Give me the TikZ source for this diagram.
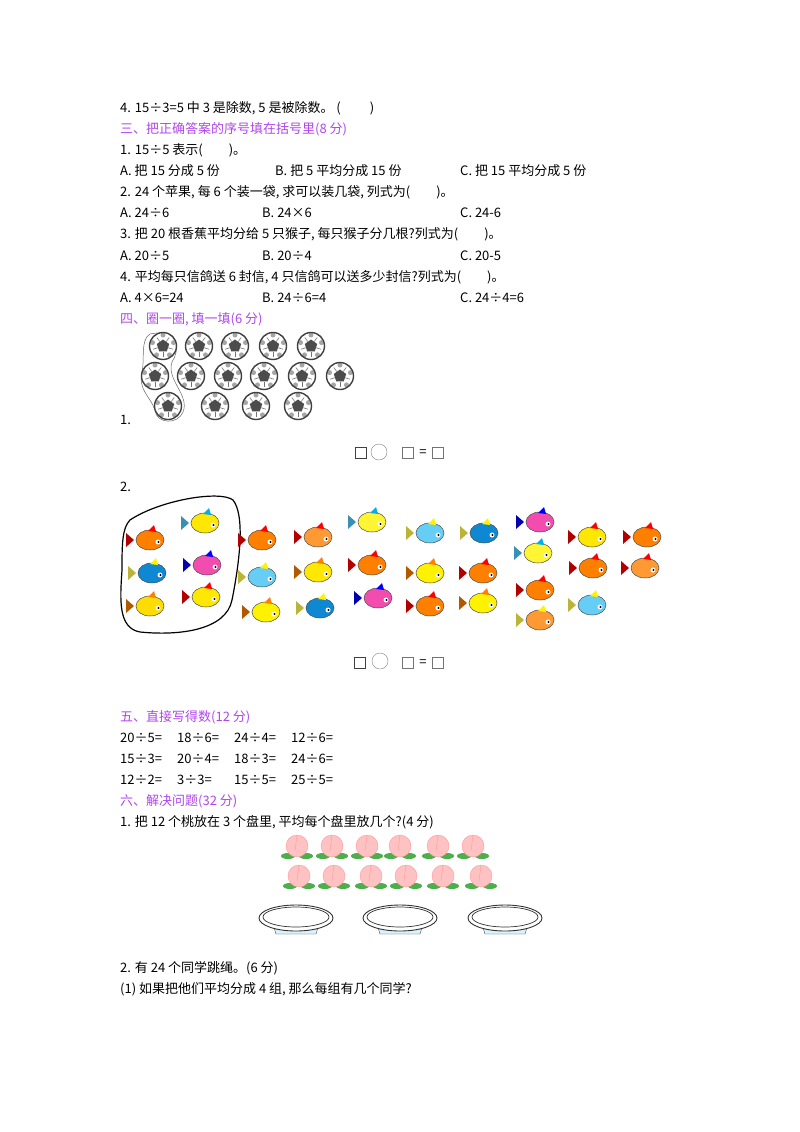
\documentclass[tikz,border=0pt]{standalone}
\usepackage{fontspec}
\setmainfont{Noto Sans CJK SC}
\usetikzlibrary{shapes.geometric}
\definecolor{pur}{RGB}{175,70,235}
\tikzset{
 t/.style={anchor=base west,inner sep=0pt,font=\fontsize{13}{15}\selectfont},
 h/.style={t,text=pur},
 bx/.style={draw=black!75,line width=1pt,minimum size=11pt,inner sep=0pt},
 ci/.style={draw=black!50,circle,minimum size=16pt,inner sep=0pt},
}
\newcommand\ball[2]{\fill[white](#1,#2) circle(13.5);
 \foreach \a in {54,126,198,270,342}{\fill[black!35](#1,#2)++(\a:11) circle(2.5);}
 \draw[black!75,line width=1.4pt](#1,#2) circle(13.5);
 \node[regular polygon,regular polygon sides=5,fill=black!70,minimum size=13pt,inner sep=0pt] at (#1,#2){};
 \foreach \a in {90,162,234,306,18}{\draw[black!55,line width=0.6pt](#1,#2)++(\a:5.5)--++(\a:5);}}
\newcommand\fishy[4]{\begin{scope}[shift={(#1,#2)}]
 \fill[#4!70!black](-16,0)--(-24,-7)--(-24,7)--cycle;
 \fill[#3](0,0) ellipse (14 and 10);\draw[black!70,line width=0.5pt](0,0) ellipse (14 and 10);
 \fill[#4](-2,-9)--(4,-15)--(6,-8)--cycle;
 \fill[white](8,2) circle(2.5);\fill(8.5,2) circle(1.2);\end{scope}}
\newcommand\peach[2]{\fill[green!55!black!70](#1-9,#2+10) ellipse (7 and 3);\fill[green!55!black!70](#1+9,#2+10) ellipse (7 and 3);
 \fill[pink!80!red!60](#1,#2) circle(11);\draw[red!40,line width=0.4pt](#1,#2) circle(11);\draw[red!40](#1,#2-11)--(#1-2,#2+5);}
\newcommand\plate[1]{\fill[cyan!15](#1-25,918)--(#1+25,918)--(#1+20,934)--(#1-20,934)--cycle;\draw[black!70](#1-25,918)--(#1-20,934)--(#1+20,934)--(#1+25,918);
 \fill[white](#1,918) ellipse (37 and 13);\draw[black!80,line width=0.9pt](#1,918) ellipse (37 and 13);\draw[black!80,line width=0.7pt](#1,917) ellipse (33 and 10);}
\begin{document}
\begin{tikzpicture}[x=1pt,y=-1pt]
\useasboundingbox (0,0) rectangle (800,1132);
\node[t] (l1) at (120,112) {4. 15÷3=5 中 3 是除数, 5 是被除数。 (\qquad\ )};
\node[h] (s3) at (120,133) {三、把正确答案的序号填在括号里(8 分)};
\node[t] (q1) at (120,154) {1. 15÷5 表示(\qquad )。};
\node[t] (q1a) at (120,175) {A. 把 15 分成 5 份};
\node[t] (q1b) at (275,175) {B. 把 5 平均分成 15 份};
\node[t] (q1c) at (460,175) {C. 把 15 平均分成 5 份};
\node[t] (q2) at (120,196) {2. 24 个苹果, 每 6 个装一袋, 求可以装几袋, 列式为(\qquad )。};
\node[t] (q2a) at (120,217) {A. 24÷6};
\node[t] (q2b) at (262,217) {B. 24×6};
\node[t] (q2c) at (460,217) {C. 24-6};
\node[t] (q3) at (120,238) {3. 把 20 根香蕉平均分给 5 只猴子, 每只猴子分几根?列式为(\qquad )。};
\node[t] (q3a) at (120,260) {A. 20÷5};
\node[t] (q3b) at (262,260) {B. 20÷4};
\node[t] (q3c) at (460,260) {C. 20-5};
\node[t] (q4) at (120,281) {4. 平均每只信鸽送 6 封信, 4 只信鸽可以送多少封信?列式为(\qquad )。};
\node[t] (q4a) at (120,302) {A. 4×6=24};
\node[t] (q4b) at (262,302) {B. 24÷6=4};
\node[t] (q4c) at (460,302) {C. 24÷4=6};
\node[h] (s4) at (120,323) {四、圈一圈, 填一填(6 分)};
\draw[black!60,line width=0.5pt] (150,334) .. controls (180,328) and (180,350) .. (172,362) .. controls (166,380) and (190,395) .. (183,412) .. controls (178,425) and (156,424) .. (155,410) .. controls (150,396) and (138,390) .. (142,372) .. controls (145,360) and (140,340) .. (150,334);
\foreach \x in {163,199,235,273,311}{\ball{\x}{346}}
\foreach \x in {155,191,228,264,302,340}{\ball{\x}{376}}
\foreach \x in {168,215,256,298}{\ball{\x}{406}}
\node[t] (n1) at (120,424) {1.};
\node[bx] (b1) at (361,453) {};
\node[ci] (c1) at (379,452) {};
\node[bx,draw=black!55] (b2) at (408,453) {};
\node[t,anchor=center] (e1) at (423,453) {=};
\node[bx,draw=black!55] (b3) at (438,453) {};
\node[t] (n2) at (120,491) {2.};
\draw[black,line width=1.2pt] (130,520) .. controls (160,500) and (220,490) .. (233,500) .. controls (245,515) and (240,560) .. (232,600) .. controls (226,630) and (180,636) .. (140,632) .. controls (118,628) and (120,600) .. (122,570) .. controls (122,545) and (122,528) .. (130,520);
\fishy{150}{540}{orange}{red}
\fishy{205}{523}{yellow!90!orange}{cyan}
\fishy{152}{573}{cyan!70!blue}{yellow}
\fishy{207}{565}{magenta!70}{blue}
\fishy{150}{606}{yellow!80!orange}{orange}
\fishy{206}{597}{yellow!90!orange}{red}
\fishy{262}{540}{orange}{red}
\fishy{262}{577}{cyan!60}{yellow}
\fishy{266}{612}{yellow}{orange}
\fishy{318}{537}{orange!80}{red}
\fishy{318}{572}{yellow!90!orange}{orange}
\fishy{320}{608}{cyan!70!blue}{yellow}
\fishy{372}{522}{yellow!80}{cyan}
\fishy{372}{565}{orange}{red}
\fishy{378}{598}{magenta!70}{blue}
\fishy{430}{533}{cyan!60}{yellow}
\fishy{430}{573}{yellow}{orange}
\fishy{430}{606}{orange}{red}
\fishy{484}{533}{cyan!70!blue}{yellow}
\fishy{483}{573}{orange}{red}
\fishy{483}{603}{yellow}{orange}
\fishy{540}{522}{magenta!70}{blue}
\fishy{538}{553}{yellow!80}{cyan}
\fishy{540}{590}{orange}{red}
\fishy{540}{620}{orange!80}{yellow}
\fishy{592}{537}{yellow!90!orange}{red}
\fishy{593}{568}{orange}{red}
\fishy{592}{605}{cyan!60}{yellow}
\fishy{647}{537}{orange}{red}
\fishy{645}{568}{orange!80}{red}
\node[bx] (b4) at (360,663) {};
\node[ci] (c2) at (380,661) {};
\node[bx,draw=black!55] (b5) at (408,663) {};
\node[t,anchor=center] (e2) at (423,663) {=};
\node[bx,draw=black!55] (b6) at (438,663) {};
\node[h] (s5) at (120,721) {五、直接写得数(12 分)};
\node[t] (r11) at (120,742) {20÷5=};\node[t] (r12) at (177,742) {18÷6=};\node[t] (r13) at (234,742) {24÷4=};\node[t] (r14) at (291,742) {12÷6=};
\node[t] (r21) at (120,763) {15÷3=};\node[t] (r22) at (177,763) {20÷4=};\node[t] (r23) at (234,763) {18÷3=};\node[t] (r24) at (291,763) {24÷6=};
\node[t] (r31) at (120,784) {12÷2=};\node[t] (r32) at (177,784) {3÷3=};\node[t] (r33) at (234,784) {15÷5=};\node[t] (r34) at (291,784) {25÷5=};
\node[h] (s6) at (120,805) {六、解决问题(32 分)};
\node[t] (p1) at (120,826) {1. 把 12 个桃放在 3 个盘里, 平均每个盘里放几个?(4 分)};
\foreach \x in {297,332,367,400,438,473}{\peach{\x}{846}}
\foreach \x in {299,334,371,406,443,481}{\peach{\x}{876}}
\plate{296}\plate{400}\plate{505}
\node[t] (p2) at (120,972) {2. 有 24 个同学跳绳。(6 分)};
\node[t] (p21) at (120,993) {(1) 如果把他们平均分成 4 组, 那么每组有几个同学?};
\end{tikzpicture}
\end{document}
